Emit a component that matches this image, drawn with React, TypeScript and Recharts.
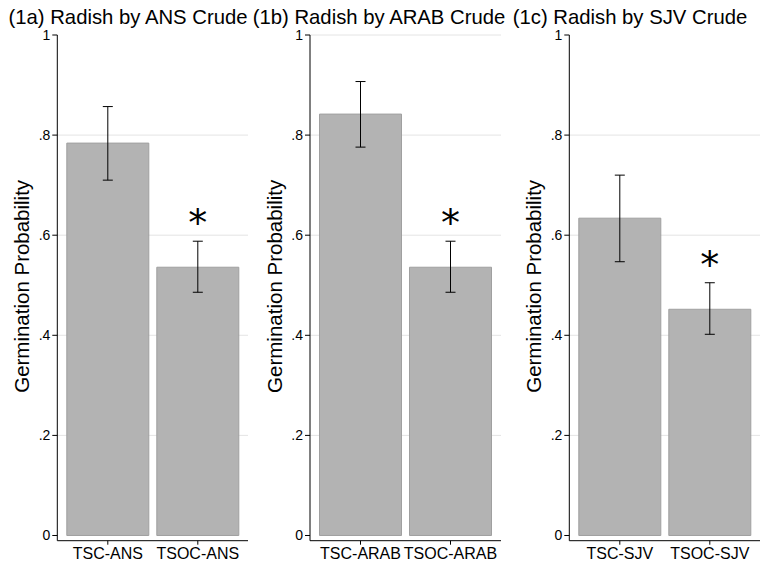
import React from 'react';
import { BarChart, Bar, XAxis, YAxis, CartesianGrid, ErrorBar, LabelList, Label } from 'recharts';

const FONT = '"Liberation Sans", Arial, Helvetica, sans-serif';

// Panel titles
const titles = ['(1a) Radish by ANS Crude', '(1b) Radish by ARAB Crude', '(1c) Radish by SJV Crude'];

// Categories
const catsA = ['TSC-ANS', 'TSOC-ANS'];
const catsB = ['TSC-ARAB', 'TSOC-ARAB'];
const catsC = ['TSC-SJV', 'TSOC-SJV'];

// Germination probability (point estimates)
const valuesA = [0.784, 0.536];
const valuesB = [0.842, 0.536];
const valuesC = [0.634, 0.452];

// Confidence interval bounds
const lowA = [0.71, 0.486];
const highA = [0.857, 0.588];
const lowB = [0.776, 0.486];
const highB = [0.907, 0.588];
const lowC = [0.547, 0.402];
const highC = [0.72, 0.505];

// Significance markers
const starsA = ['', '*'];
const starsB = ['', '*'];
const starsC = ['', '*'];

// Axis ticks
const yTicks = [0, 0.2, 0.4, 0.6, 0.8, 1];
const gridA = [0.2, 0.4, 0.6, 0.8];
const gridB = [0.2, 0.4, 0.6, 0.8, 1];
const gridC = [0.2, 0.4, 0.6, 0.8];

const yLabel = 'Germination Probability';

const fmt = (v: number) => (v === 0 ? '0' : v === 1 ? '1' : String(v).replace(/^0/, ''));

const PLOT_W = 191;
const TOP = 35;
const XH = 23.3;
const H = 564;

type PanelCfg = {
  cats: string[];
  values: number[];
  lo: number[];
  hi: number[];
  stars: string[];
  grid: number[];
  chartLeft: number;
  axisX: number;
};

function Panel({ cfg }: { cfg: PanelCfg }) {
  const data = cfg.cats.map((c, i) => ({
    name: c,
    value: cfg.values[i],
    err: [cfg.values[i] - cfg.lo[i], cfg.hi[i] - cfg.values[i]],
    star: cfg.stars[i],
  }));
  const yw = cfg.axisX - cfg.chartLeft;
  const width = yw + PLOT_W;

  const renderStar = (props: any) => {
    const { x, y, width: w, height: h, index, value } = props;
    if (!value) return null;
    const v = cfg.values[index];
    const hi = cfg.hi[index];
    const pxPerUnit = Number(h) / v;
    const errTop = Number(y) - (hi - v) * pxPerUnit;
    const cy = errTop - 22;
    const fs = 38;
    return (
      <text
        x={Number(x) + Number(w) / 2}
        y={cy + 0.45 * fs}
        textAnchor="middle"
        fontSize={fs}
        fontFamily='"DejaVu Sans", sans-serif'
        fill="#000"
      >
        {value}
      </text>
    );
  };

  const renderYLabel = () => {
    const lx = yw - 27.8;
    const ly = TOP + (H - XH - TOP) / 2 - 1.5;
    return (
      <text
        x={lx}
        y={ly}
        transform={`rotate(-90, ${lx}, ${ly})`}
        textAnchor="middle"
        fontSize={20.5}
        fontFamily={FONT}
        fill="#000"
      >
        {yLabel}
      </text>
    );
  };

  return (
    <div style={{ position: 'absolute', left: cfg.chartLeft, top: 0 }}>
      <BarChart width={width} height={H} data={data} margin={{ top: TOP, right: 0, left: 0, bottom: 0 }}>
        <CartesianGrid vertical={false} horizontalValues={cfg.grid} stroke="#e4e4e4" strokeWidth={1} />
        <XAxis
          dataKey="name"
          padding={{ left: 5.5, right: 5.5 }}
          height={XH}
          tickSize={4}
          tickMargin={3}
          interval={0}
          axisLine={{ stroke: '#000', strokeWidth: 1 }}
          tickLine={{ stroke: '#000' }}
          tick={{ fill: '#000', fontSize: 16, fontFamily: FONT }}
        />
        <YAxis
          type="number"
          domain={[-0.0104, 1]}
          allowDataOverflow
          ticks={yTicks}
          tickFormatter={fmt}
          width={yw}
          tickSize={5}
          tickMargin={2}
          axisLine={{ stroke: '#000', strokeWidth: 1 }}
          tickLine={{ stroke: '#000' }}
          tick={{ fill: '#000', fontSize: 14, fontFamily: FONT }}
        >
          <Label content={renderYLabel} />
        </YAxis>
        <Bar dataKey="value" fill="#b3b3b3" stroke="#a0a0a0" strokeWidth={1} barSize={82} isAnimationActive={false}>
          <ErrorBar dataKey="err" width={5} stroke="#000" strokeWidth={1} />
          <LabelList dataKey="star" content={renderStar} />
        </Bar>
      </BarChart>
    </div>
  );
}

const panels: PanelCfg[] = [
  { cats: catsA, values: valuesA, lo: lowA, hi: highA, stars: starsA, grid: gridA, chartLeft: 0, axisX: 57.3 },
  { cats: catsB, values: valuesB, lo: lowB, hi: highB, stars: starsB, grid: gridB, chartLeft: 252, axisX: 310 },
  { cats: catsC, values: valuesC, lo: lowC, hi: highC, stars: starsC, grid: gridC, chartLeft: 512, axisX: 569.3 },
];

const titleCenters = [128, 379, 630];

export default function App() {
  return (
    <div style={{ position: 'absolute', left: 0, top: 0, width: 762, height: 564, background: '#fff', overflow: 'hidden' }}>
      {panels.map((p, i) => (
        <Panel key={i} cfg={p} />
      ))}
      <svg width={762} height={30} style={{ position: 'absolute', left: 0, top: 0 }}>
        {titles.map((t, i) => (
          <text key={i} x={titleCenters[i]} y={24} textAnchor="middle" fontSize={20.3} fontFamily={FONT} fill="#000">
            {t}
          </text>
        ))}
      </svg>
    </div>
  );
}
